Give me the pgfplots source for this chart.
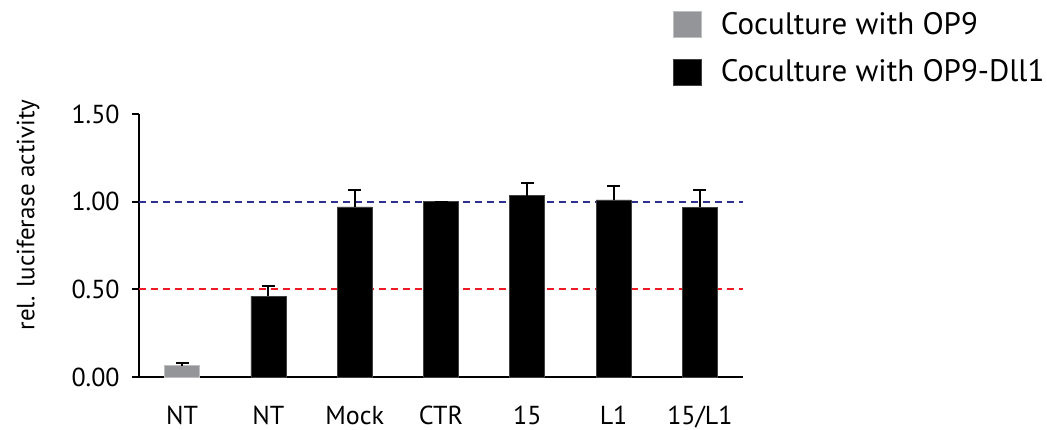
\documentclass[border=0pt]{standalone}
\usepackage{pgfplots}
\pgfplotsset{compat=1.18}
\usepackage{fontspec}
\setmainfont{PT Sans}
\definecolor{bargray}{RGB}{147,149,152}
\definecolor{bblack}{RGB}{0,0,0}
\definecolor{lineblue}{RGB}{46,49,146}
\definecolor{linered}{RGB}{237,28,36}
\begin{document}
\begin{tikzpicture}
\path[use as bounding box] (-69.5pt,-26pt) rectangle (454pt,188.5pt);
\begin{axis}[
  at={(0pt,0pt)}, anchor=south west,
  scale only axis, width=302pt, height=131.5pt,
  xmin=-0.5, xmax=6.5, ymin=0, ymax=1.5,
  axis lines=left, axis line style={-, line width=1pt},
  clip=false,
  xtick={0,1,2,3,4,5,6},
  xticklabels={NT,NT,Mock,CTR,15,L1,15/L1},
  xtick style={draw=none},
  ytick={0,0.5,1,1.5},
  ytick style={line width=1pt, black},
  tick align=outside, major tick length=3.5pt,
  /pgf/number format/assume math mode=true,
  yticklabel={\pgfmathprintnumber[fixed, fixed zerofill, precision=2]{\tick}},
  y tick label style={font=\fontsize{13}{15}\selectfont, inner sep=0pt, xshift=-6pt},
  x tick label style={font=\fontsize{13}{15}\selectfont, inner sep=0pt, anchor=north, yshift=-11pt},
  legend style={at={(0.884,1.392)}, anchor=north west, draw=none, fill=none,
    font=\fontsize{15.5}{18}\selectfont, row sep=10.5pt, inner sep=0pt,
    nodes={inner sep=0pt},
    /tikz/every odd column/.append style={column sep=9.5pt}},
  legend cell align=left,
  legend image code/.code={\fill[#1] (0pt,-6.5pt) rectangle (14pt,6.5pt);},
]
\addplot[lineblue, line width=1pt, dash pattern=on 3.5pt off 2.5pt, forget plot] coordinates {(-0.5,1) (6.5,1)};
\addplot[linered, line width=1pt, dash pattern=on 3.5pt off 2.5pt, forget plot] coordinates {(-0.5,0.5) (6.5,0.5)};
\addplot[ybar, bar width=17.5pt, bar shift=0pt, fill=bargray, draw=bargray!60!white, line width=0.3pt,
  error bars/.cd, y dir=plus, y explicit,
  error bar style={line width=1pt, black},
  error mark options={rotate=90, mark size=3.25pt, line width=1pt, black}]
  coordinates {(0,0.064) +- (0,0.015)};
\addplot[ybar, bar width=17.5pt, bar shift=0pt, fill=bblack, draw=black!75!white, line width=0.3pt,
  error bars/.cd, y dir=plus, y explicit,
  error bar style={line width=1pt, black},
  error mark options={rotate=90, mark size=3.25pt, line width=1pt, black}]
  coordinates {(1,0.462) +- (0,0.058) (2,0.97) +- (0,0.097) (3,1.0) +- (0,0) (4,1.034) +- (0,0.071) (5,1.01) +- (0,0.081) (6,0.968) +- (0,0.099)};
\legend{Coculture with OP9, Coculture with OP9-Dll1}
\end{axis}
\node[rotate=90, font=\fontsize{12.5}{15}\selectfont, inner sep=0pt] at (-55.5pt,81pt) {rel. luciferase activity};
\end{tikzpicture}
\end{document}
